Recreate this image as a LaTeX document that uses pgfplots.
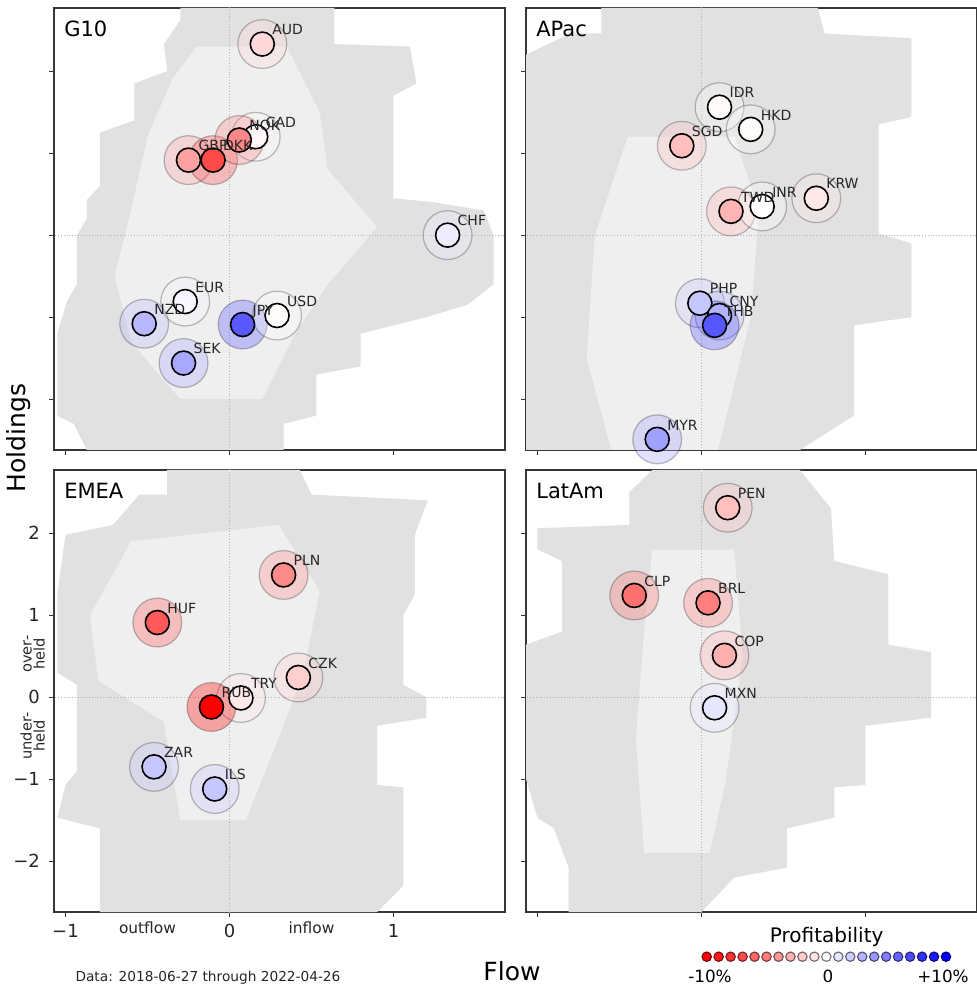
\documentclass[border=0pt]{standalone}
\usepackage{pgfplots}
\pgfplotsset{compat=1.18}
\usepackage{pgfplotstable}
\usepackage{fontspec}
\setmainfont{DejaVu Sans}
\setsansfont{DejaVu Sans}

\definecolor{cloudA}{RGB}{225,225,225}
\definecolor{cloudB}{RGB}{239,239,239}
\definecolor{frame}{RGB}{55,55,55}

\pgfplotstableread{
x y p label
0.20 2.33 -1.5 AUD
-0.25 0.915 -3.7 GBP
-0.10 0.915 -7.1 DKK
0.16 1.20 -0.3 CAD
0.06 1.16 -4.7 NOK
1.33 0.00 0.7 CHF
-0.52 -1.08 2.8 NZD
-0.27 -0.81 0.3 EUR
0.08 -1.09 6.5 JPY
0.29 -0.98 -0.1 USD
-0.28 -1.56 3.4 SEK
}\gten

\pgfplotstableread{
x y p label
0.11 1.56 -0.2 IDR
0.30 1.29 -0.1 HKD
-0.12 1.09 -2.5 SGD
0.18 0.29 -2.9 TWD
0.37 0.35 0.0 INR
0.70 0.45 -0.9 KRW
-0.01 -0.83 2.2 PHP
0.11 -0.98 3.0 CNY
0.08 -1.10 6.6 THB
-0.27 -2.49 3.7 MYR
}\apac

\pgfplotstableread{
x y p label
0.33 1.49 -4.6 PLN
-0.44 0.91 -6.5 HUF
0.42 0.24 -1.9 CZK
0.07 -0.01 -0.9 TRY
-0.11 -0.12 -10 RUB
-0.46 -0.85 2.2 ZAR
-0.09 -1.12 2.2 ILS
}\emea

\pgfplotstableread{
x y p label
0.16 2.31 -2.5 PEN
-0.41 1.24 -5.6 CLP
0.04 1.15 -5.0 BRL
0.14 0.51 -3.1 COP
0.08 -0.13 1.0 MXN
}\latam

\pgfplotstableread{
x y p
-10 0 -10
-9 0 -9
-8 0 -8
-7 0 -7
-6 0 -6
-5 0 -5
-4 0 -4
-3 0 -3
-2 0 -2
-1 0 -1
0 0 0
1 0 1
2 0 2
3 0 3
4 0 4
5 0 5
6 0 6
7 0 7
8 0 8
9 0 9
10 0 10
}\legtab

\pgfplotsset{
  bwrmap/.style={
    colormap={bwr}{rgb255=(255,0,0) rgb255=(255,255,255) rgb255=(0,0,255)},
    point meta min=-10, point meta max=10,
  },
  panel/.style={
    bwrmap,
    scale only axis, width=225.5pt, height=221pt,
    xmin=-1.07, xmax=1.68, ymin=-2.62, ymax=2.77,
    axis line style={draw=frame, line width=0.7pt},
    xtick={-1,0,1}, ytick={-2,-1,0,1,2},
    tick align=outside, tick pos=left,
    major tick length=2.5pt,
    every tick/.style={frame, line width=0.6pt},
    clip mode=global,
    tick label style={font=\fontsize{9}{10}\selectfont, text=black!85},
  },
  nolabels/.style={xticklabels={,,}, yticklabels={,,,,}},
  halo/.style={only marks, scatter, scatter src=explicit, mark=*, mark size=12.2pt,
    scatter/use mapped color={draw=black, fill=mapped color},
    mark options={fill opacity=0.32, draw opacity=0.25, line width=0.6pt}},
  dot/.style={only marks, scatter, scatter src=explicit, mark=*, mark size=6.0pt,
    scatter/use mapped color={draw=black, fill=mapped color},
    mark options={line width=0.8pt}},
  lab/.style={only marks, mark=none, nodes near coords, point meta=explicit symbolic,
    every node near coord/.append style={anchor=base west, inner sep=0pt,
      xshift=4.85pt, yshift=4.65pt, font=\fontsize{7}{8}\selectfont, text=black!85}},
  zline/.style={gray!60, densely dotted, line width=0.4pt, forget plot},
}

\newcommand{\markers}[1]{%
  \addplot[zline] coordinates {(0,-3) (0,3)};
  \addplot[zline] coordinates {(-2,0) (2,0)};
  \addplot[halo] table[x=x,y=y,meta=p] {#1};
  \addplot[dot] table[x=x,y=y,meta=p] {#1};
  \addplot[lab] table[x=x,y=y,meta=label] {#1};
}

\begin{document}
\begin{tikzpicture}
\useasboundingbox (0,0) rectangle (488.5pt,493pt);

% ---------------- G10
\begin{axis}[panel, nolabels, at={(27pt,268pt)}, anchor=south west]
\addplot[fill=cloudA, draw=none] coordinates {
(-0.30,2.77) (0.64,2.77) (0.64,2.33) (1.10,2.30) (1.14,1.85) (1.0,1.7) (1.0,0.45)
(1.25,0.40) (1.55,0.30) (1.61,0.0) (1.61,-0.6) (1.45,-0.85) (1.2,-1.0) (0.8,-1.2)
(0.80,-1.6) (0.53,-1.7) (0.53,-2.2) (0.33,-2.3) (0.33,-2.62) (-0.87,-2.62)
(-0.95,-2.3) (-1.05,-2.2) (-1.05,-1.2) (-0.99,-0.8) (-0.93,-0.6) (-0.93,0.0)
(-0.87,0.2) (-0.87,0.43) (-0.79,0.6) (-0.79,1.25) (-0.58,1.4) (-0.58,1.85)
(-0.38,2.0) (-0.40,2.33) (-0.30,2.62)} -- cycle;
\addplot[fill=cloudB, draw=none] coordinates {
(-0.2,2.3) (0.35,2.3) (0.55,1.5) (0.6,0.8) (0.9,0.1) (0.6,-0.6) (0.4,-1.2)
(0.2,-2.0) (-0.3,-2.0) (-0.6,-1.3) (-0.7,-0.5) (-0.6,0.3) (-0.5,1.2) (-0.35,1.9)} -- cycle;
\markers{\gten}
\node[anchor=north west, inner sep=0pt, font=\fontsize{10.5}{12}\selectfont] at (rel axis cs:0.022,0.971) {G10};
\end{axis}

% ---------------- APac
\begin{axis}[panel, nolabels, at={(263pt,268pt)}, anchor=south west]
\addplot[fill=cloudA, draw=none] coordinates {
(-0.61,2.77) (0.71,2.77) (0.75,2.46) (1.28,2.40) (1.28,1.44) (1.08,1.35) (1.08,0.02)
(1.28,-0.1) (1.28,-1.0) (0.93,-1.1) (0.93,-2.2) (0.6,-2.62) (-1.07,-2.62)
(-1.07,2.2) (-0.8,2.46) (-0.61,2.46)} -- cycle;
\addplot[fill=cloudB, draw=none] coordinates {
(-0.45,1.2) (0.2,1.2) (0.35,0.3) (0.3,-1.0) (0.1,-2.62) (-0.55,-2.62) (-0.7,-1.5)
(-0.65,0.0)} -- cycle;
\markers{\apac}
\node[anchor=north west, inner sep=0pt, font=\fontsize{10.5}{12}\selectfont] at (rel axis cs:0.022,0.971) {APac};
\end{axis}

% ---------------- EMEA
\begin{axis}[panel, at={(27pt,37pt)}, anchor=south west,
  xticklabels={−1,0,1}, yticklabels={−2,−1,0,1,2},
  yticklabel style={xshift=-1pt},
  extra x ticks={-0.5,0.5}, extra x tick labels={outflow,inflow},
  extra x tick style={major tick length=0pt,
    xticklabel style={font=\fontsize{7.7}{9}\selectfont, yshift=-1.5pt}},
  extra y ticks={-0.5,0.5}, extra y tick labels={{under-\\held},{over-\\held}},
  extra y tick style={major tick length=0pt,
    yticklabel style={rotate=90, anchor=south, align=center, xshift=1pt,
      font=\fontsize{7.3}{6.6}\selectfont}},
]
\addplot[fill=cloudA, draw=none] coordinates {
(-0.38,2.77) (0.43,2.77) (0.5,2.47) (1.21,2.4) (1.13,1.98) (1.13,1.25) (1.06,1.0)
(1.06,0.15) (1.2,0.0) (1.2,-0.25) (0.9,-0.35) (0.9,-1.07) (1.06,-1.1) (1.06,-2.3)
(0.9,-2.62) (-0.79,-2.62) (-0.79,-1.6) (-1.05,-1.47) (-1.0,-1.07) (-0.93,-0.9)
(-0.93,0.15) (-1.05,0.3) (-1.05,1.25) (-1.0,1.98) (-0.71,2.1) (-0.55,2.47)
(-0.38,2.47)} -- cycle;
\addplot[fill=cloudB, draw=none] coordinates {
(-0.6,1.9) (0.3,2.1) (0.55,1.3) (0.45,0.3) (0.3,-0.5) (0.1,-1.5) (-0.3,-1.5)
(-0.4,-0.3) (-0.8,0.2) (-0.85,1.0)} -- cycle;
\markers{\emea}
\node[anchor=north west, inner sep=0pt, font=\fontsize{10.5}{12}\selectfont] at (rel axis cs:0.022,0.971) {EMEA};
\end{axis}

% ---------------- LatAm
\begin{axis}[panel, nolabels, at={(263pt,37pt)}, anchor=south west]
\addplot[fill=cloudA, draw=none] coordinates {
(-0.3,2.77) (0.6,2.77) (0.79,2.3) (0.81,1.66) (1.14,1.5) (1.14,0.64) (1.40,0.55)
(1.40,-0.25) (1.0,-0.35) (1.0,-1.07) (0.81,-1.1) (0.81,-1.47) (0.52,-1.6)
(0.52,-2.08) (0.2,-2.2) (0.0,-2.62) (-0.81,-2.62) (-0.81,-2.08) (-0.9,-1.6)
(-1.0,-1.47) (-1.07,-1.0) (-1.07,0.64) (-0.85,0.8) (-0.85,1.66) (-1.0,1.8)
(-1.0,2.06) (-0.44,2.1) (-0.44,2.5)} -- cycle;
\addplot[fill=cloudB, draw=none] coordinates {
(-0.3,1.8) (0.2,1.8) (0.25,0.5) (0.15,-1.0) (0.05,-1.9) (-0.35,-1.9) (-0.4,-0.5)
(-0.35,0.8)} -- cycle;
\markers{\latam}
\node[anchor=north west, inner sep=0pt, font=\fontsize{10.5}{12}\selectfont] at (rel axis cs:0.022,0.971) {LatAm};
\end{axis}

% ---------------- Profitability key
\begin{axis}[bwrmap, hide axis, scale only axis, width=119.65pt, height=6pt,
  xmin=-10, xmax=10, ymin=-1, ymax=1, clip=false,
  at={(353.35pt,14.65pt)}, anchor=west]
\addplot[only marks, scatter, scatter src=explicit, mark=*, mark size=2.35pt,
  scatter/use mapped color={draw=mapped color!45!black, fill=mapped color},
  mark options={line width=0.55pt}] table[x=x,y=y,meta=p] {\legtab};
\end{axis}

\node[font=\fontsize{10}{12}\selectfont] at (413.35pt,24.6pt) {Profitability};
\node[font=\fontsize{8.4}{10}\selectfont] at (355pt,5pt) {-10\%};
\node[font=\fontsize{8.4}{10}\selectfont] at (414pt,5pt) {0};
\node[font=\fontsize{8.4}{10}\selectfont] at (471.5pt,5pt) {+10\%};
\node[font=\fontsize{12.5}{14}\selectfont] at (256pt,7.5pt) {Flow};
\node[font=\fontsize{12.5}{14}\selectfont, rotate=90] at (9.5pt,274pt) {Holdings};
\node[font=\fontsize{6.85}{8}\selectfont, text=black!85] at (104pt,4.15pt) {Data: 2018-06-27 through 2022-04-26};
\end{tikzpicture}
\end{document}
